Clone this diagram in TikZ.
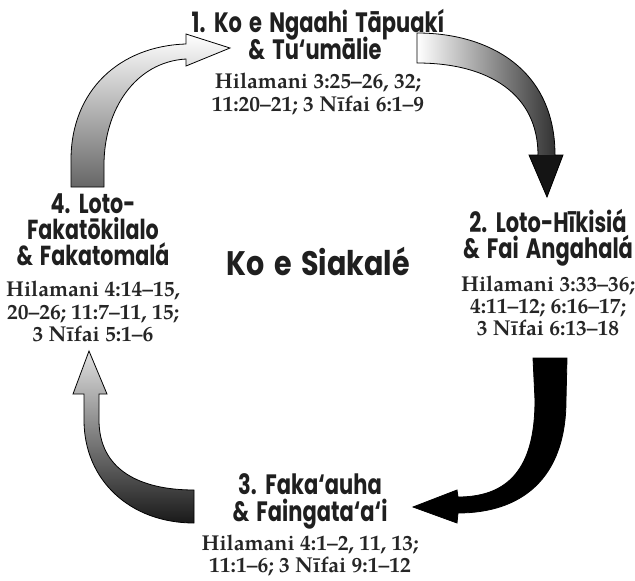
\documentclass[tikz,border=0pt]{standalone}
\usepackage{fontspec}
\setmainfont{TeX Gyre Pagella}
\newfontfamily\headfont{Poppins}[FakeStretch=0.75, WordSpace=1.6]
\newfontfamily\bigfont{Poppins}[FakeStretch=0.84, WordSpace=1.6]
\tikzset{
  headline/.style={font=\headfont\bfseries\fontsize{28}{28}\selectfont, text=black!88, inner sep=0pt, anchor=base, text height=19pt, text depth=4pt},
  headblock/.style={font=\headfont\bfseries\fontsize{27.5}{26}\selectfont, text=black!88, inner sep=0pt, align=center, anchor=north},
  bigline/.style={font=\bigfont\bfseries\fontsize{34}{34}\selectfont, text=black!88, inner sep=0pt, anchor=base},
  refline/.style={font=\bfseries\fontsize{21.5}{21.5}\selectfont, text=black!85, inner sep=0pt, anchor=base, text height=15pt, text depth=5pt},
  outline/.style={draw=black, line width=0.8pt, line join=miter},
}
\def\arrowone{(71,187) -- (71,160) .. controls (71,90) and (120,46) .. (186,44) -- (186,34) -- (230,48) -- (186,66) -- (186,59) .. controls (135,62) and (104,110) .. (104,165) -- (104,187) -- cycle}
\def\arrowtwo{(417,33) .. controls (490,33) and (555,70) .. (555,155) -- (563,155) -- (547,197) -- (529,155) -- (538,155) .. controls (538,95) and (490,63) .. (417,63) -- cycle}
\def\headtwo{(563,155) -- (547,197) -- (529,155) -- cycle}
\def\arrowthree{(533,358) -- (567,358) -- (566,400) .. controls (566,480) and (520,513) .. (458,513) -- (457,523) -- (413,507) -- (457,490) -- (458,497) .. controls (515,497) and (535,460) .. (535,400) -- cycle}
\def\arrowfour{(194,523) -- (194,490) .. controls (140,490) and (99,470) .. (99,420) -- (99,394) -- (107,394) -- (89,351) -- (73,394) -- (84,394) -- (84,420) .. controls (84,480) and (130,523) .. (194,523) -- cycle}
\begin{document}
\begin{tikzpicture}[x=1pt,y=-1pt]
\useasboundingbox (0,0) rectangle (635,581);
% arrows
\shade[top color=white, middle color=black!8, bottom color=black!60] \arrowone;
\draw[outline] \arrowone;
\shade[left color=white, middle color=black!18, right color=black!85] \arrowtwo;
\fill[black!92] \headtwo;
\draw[outline] \arrowtwo;
\filldraw[fill=black, outline] \arrowthree;
\shade[top color=black!12, bottom color=black!90] \arrowfour;
\draw[outline] \arrowfour;
% top block
\node[headline] (t1a) at (318,32) {1. Ko e Ngaahi Tāpuakí};
\node[headline] (t1b) at (315,59) {\& Tu‘umālie};
\node[refline] (r1a) at (318,88) {Hilamani 3:25–26, 32;};
\node[refline] (r1b) at (318,111) {11:20–21; 3 Nīfai 6:1–9};
% right block
\node[headline] (t2a) at (548,232) {2. Loto-Hīkisiá};
\node[headline] (t2b) at (548,258) {\& Fai Angahalá};
\node[refline] (r2a) at (548,291) {Hilamani 3:33–36;};
\node[refline] (r2b) at (548,313) {4:11–12; 6:16–17;};
\node[refline] (r2c) at (548,335) {3 Nīfai 6:13–18};
% bottom block
\node[headline] (t3a) at (310,494) {3. Faka‘auha};
\node[headline] (t3b) at (310,521) {\& Faingata‘a‘i};
\node[refline] (r3a) at (310,550) {Hilamani 4:1–2, 11, 13;};
\node[refline] (r3b) at (310,572) {11:1–6; 3 Nīfai 9:1–12};
% left block
\node[headblock] (t4) at (93,193.8) {4. Loto-\\Fakatōkilalo\\\& Fakatomalá};
\node[refline] (r4a) at (93,296) {Hilamani 4:14–15,};
\node[refline] (r4b) at (93,319) {20–26; 11:7–11, 15;};
\node[refline] (r4c) at (93,341) {3 Nīfai 5:1–6};
% centre
\node[bigline] (c) at (318,275) {Ko e Siakalé};
\end{tikzpicture}
\end{document}
